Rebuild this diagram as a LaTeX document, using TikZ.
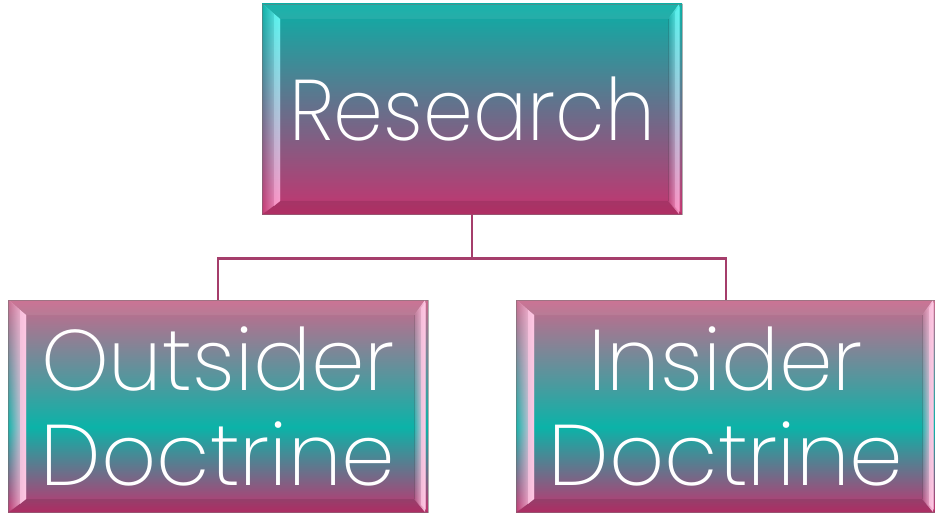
\documentclass[tikz,border=0pt]{standalone}
\usepackage{fontspec}
\setmainfont{Poppins ExtraLight}[FakeStretch=0.93]
\newfontfamily\lowface{Poppins ExtraLight}[FakeStretch=1.0]
\usetikzlibrary{calc,fadings}
\definecolor{teal1}{HTML}{0AAFA6}
\definecolor{mag1}{HTML}{C4346F}
\definecolor{mid1}{HTML}{676F8B}
\definecolor{pinktop}{HTML}{C8698C}
\definecolor{teal2}{HTML}{0BB3A8}
\definecolor{mag2}{HTML}{C2336F}
\definecolor{linkc}{HTML}{A53E6B}
\definecolor{hlcyan}{HTML}{5FF7F2}
\definecolor{hlpink}{HTML}{FF9ACB}
\definecolor{hlpale}{HTML}{FFC8E4}
\pgfdeclareverticalshading{topbox}{100bp}{color(0bp)=(mag1); color(25bp)=(mag1); color(50bp)=(mid1); color(75bp)=(teal1); color(100bp)=(teal1)}
\pgfdeclareverticalshading{lowbox}{100bp}{color(0bp)=(mag2); color(25bp)=(mag2); color(45bp)=(teal2); color(75bp)=(pinktop); color(100bp)=(pinktop)}
\tikzfading[name=bevfade, left color=transparent!90, right color=transparent!0]
\tikzset{
  bevel/.style n args={3}{path picture={
    \coordinate (sw) at (path picture bounding box.south west);
    \coordinate (ne) at (path picture bounding box.north east);
    \coordinate (nw) at (path picture bounding box.north west);
    \coordinate (se) at (path picture bounding box.south east);
    \fill[white,opacity=0.07] (nw) -- (ne) -- ([shift={(-14pt,-15pt)}]ne) -- ([shift={(18pt,-15pt)}]nw) -- cycle;
    \fill[black,opacity=0.10] (sw) -- (se) -- ([shift={(-14pt,13pt)}]se) -- ([shift={(18pt,13pt)}]sw) -- cycle;
    \shade[top color=#1, middle color=#2, bottom color=#3, path fading=bevfade, fit fading=true]
      ([shift={(1pt,0pt)}]sw) -- ([shift={(1pt,0pt)}]nw) -- ([shift={(18pt,-15pt)}]nw) -- ([shift={(18pt,13pt)}]sw) -- cycle;
    \shade[top color=#1, middle color=#2, bottom color=#3, opacity=0.7]
      ([shift={(12pt,8pt)}]sw) -- ([shift={(12pt,-10pt)}]nw) -- ([shift={(18pt,-15pt)}]nw) -- ([shift={(18pt,13pt)}]sw) -- cycle;
    \shade[top color=#1, middle color=#2, bottom color=#3, path fading=bevfade, fit fading=true]
      ([shift={(-3pt,0pt)}]se) -- ([shift={(-3pt,0pt)}]ne) -- ([shift={(-14pt,-15pt)}]ne) -- ([shift={(-14pt,13pt)}]se) -- cycle;
    \shade[top color=#1, middle color=#2, bottom color=#3, opacity=0.7]
      ([shift={(-2pt,2pt)}]se) -- ([shift={(-2pt,-2pt)}]ne) -- ([shift={(-7pt,-8pt)}]ne) -- ([shift={(-7pt,7pt)}]se) -- cycle;
    \draw[black,opacity=0.15,line width=0.8pt] ([shift={(-14pt,-15pt)}]ne) -- ([shift={(-14pt,13pt)}]se);
  }},
  box/.style={rectangle, minimum width=420pt, inner sep=0pt, text=white,
    draw=black!55, draw opacity=0.5, line width=0.8pt, align=center,
    font=\fontsize{86}{95}\selectfont},
  topstyle/.style={box, minimum height=210pt, shading=topbox, bevel={hlcyan}{hlpale!60!hlcyan}{hlpink}},
  lowstyle/.style={box, minimum height=212pt, shading=lowbox, bevel={hlpale}{hlcyan}{hlpale},
    font=\lowface\fontsize{86}{95}\selectfont},
  link/.style={draw=linkc, line width=2.4pt}
}
\begin{document}
\begin{tikzpicture}[x=1pt,y=-1pt]
\useasboundingbox (0,0) rectangle (935,516);
\node[topstyle] (research) at (472,109) {Research};
\node[lowstyle] (outsider) at (218,406) {Outsider\\Doctrine};
\node[lowstyle] (insider) at (726,406) {Insider\\Doctrine};
\coordinate (bus) at ($(research.south)+(0,44)$);
\draw[link] (research.south) -- (bus) -| (outsider.north);
\draw[link] (bus) -| (insider.north);
\end{tikzpicture}
\end{document}
